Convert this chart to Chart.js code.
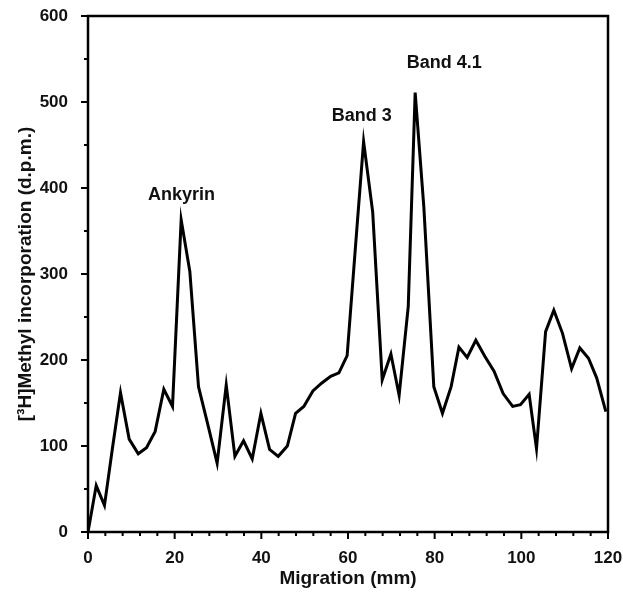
<!DOCTYPE html>
<html>
<head>
<meta charset="utf-8">
<script src="https://cdn.jsdelivr.net/npm/chart.js@4.4.0/dist/chart.umd.min.js"></script>
<style>
  html, body { margin: 0; padding: 0; background: #fff; }
  #wrap { width: 623px; height: 593px; }
</style>
</head>
<body>
<div id="wrap"><canvas id="methyl-chart" width="623" height="593"></canvas></div>
<script>
// migration distance (mm) of each gel slice
const migration = [0, 1.9, 3.8, 5.6, 7.5, 9.5, 11.6, 13.5, 15.5, 17.5,
    19.5, 21.5, 23.5, 25.5, 27.6, 29.8, 31.9, 33.9, 35.9, 37.9,
    39.9, 41.9, 43.9, 46.0, 47.9, 49.8, 51.9, 53.9, 56.0, 57.9,
    59.8, 61.7, 63.6, 65.7, 67.9, 69.9, 71.8, 73.9, 75.5, 77.5,
    79.8, 81.8, 83.8, 85.6, 87.5, 89.5, 91.6, 93.7, 95.8, 98.0,
    99.8, 101.8, 103.5, 105.6, 107.5, 109.5, 111.6, 113.5, 115.5, 117.4, 119.5];

// [3H]methyl incorporation (d.p.m.)
const incorporation = [0, 54, 31, 96, 162, 108, 91, 98, 117, 166,
    146, 363, 303, 169, 126, 80, 171, 88, 106, 85,
    138, 96, 88, 100, 138, 146, 164, 173, 181, 185,
    205, 330, 454, 372, 177, 207, 159, 262, 511, 378,
    169, 138, 169, 215, 203, 223, 204, 187, 161, 146,
    148, 160, 97, 233, 258, 231, 190, 214, 202, 179, 140];

// peak labels
const peakNames = ["Ankyrin", "Band 3", "Band 4.1"];
const peakX = [21.6, 63.2, 82.2];
const peakY = [392, 484, 545];

const xTicks = [0, 20, 40, 60, 80, 100, 120];
const yTicks = [0, 100, 200, 300, 400, 500, 600];

const fontFamily = "'Liberation Sans', Arial, sans-serif";

// frame, tick marks and peak labels
const framePlugin = {
    id: 'frame',
    afterDraw(chart) {
        const ctx = chart.ctx;
        const area = chart.chartArea;
        const xs = chart.scales.x;
        const ys = chart.scales.y;
        ctx.save();
        ctx.strokeStyle = '#000';
        ctx.lineWidth = 2.5;
        ctx.strokeRect(area.left, area.top, area.right - area.left, area.bottom - area.top);

        ctx.lineWidth = 2;
        ctx.beginPath();
        for (let v = 0; v <= 120; v += 4) {
            const px = xs.getPixelForValue(v);
            const len = v % 20 === 0 ? 7 : 4;
            ctx.moveTo(px, area.bottom);
            ctx.lineTo(px, area.bottom + len);
        }
        for (let v = 0; v <= 600; v += 50) {
            const py = ys.getPixelForValue(v);
            const len = v % 100 === 0 ? 7 : 4;
            ctx.moveTo(area.left, py);
            ctx.lineTo(area.left - len, py);
        }
        ctx.stroke();

        ctx.fillStyle = '#111';
        ctx.font = 'bold 18px ' + fontFamily;
        ctx.textAlign = 'center';
        ctx.textBaseline = 'middle';
        for (let i = 0; i < peakNames.length; i++) {
            ctx.fillText(peakNames[i], xs.getPixelForValue(peakX[i]), ys.getPixelForValue(peakY[i]));
        }
        ctx.restore();
    }
};

const points = migration.map((m, i) => ({ x: m, y: incorporation[i] }));

new Chart(document.getElementById('methyl-chart'), {
    type: 'line',
    data: {
        datasets: [{
            data: points,
            borderColor: '#000',
            borderWidth: 3,
            borderJoinStyle: 'miter',
            pointRadius: 0,
            tension: 0,
            fill: false
        }]
    },
    options: {
        responsive: false,
        animation: false,
        layout: { padding: { top: 16, right: 15, left: 0, bottom: 0 } },
        plugins: {
            legend: { display: false },
            tooltip: { enabled: false }
        },
        scales: {
            x: {
                type: 'linear',
                min: 0,
                max: 120,
                afterBuildTicks: s => { s.ticks = xTicks.map(v => ({ value: v })); },
                afterFit: s => { s.height = 61; s.paddingLeft = 0; s.paddingRight = 0; },
                grid: { display: false },
                border: { display: false },
                ticks: {
                    color: '#111',
                    padding: 8,
                    maxRotation: 0,
                    font: { family: fontFamily, size: 17, weight: 'bold' }
                },
                title: {
                    display: true,
                    text: 'Migration (mm)',
                    color: '#111',
                    padding: { top: 0, bottom: 3 },
                    font: { family: fontFamily, size: 19, weight: 'bold' }
                }
            },
            y: {
                min: 0,
                max: 600,
                afterBuildTicks: s => { s.ticks = yTicks.map(v => ({ value: v })); },
                afterFit: s => { s.width = 88; s.paddingTop = 0; s.paddingBottom = 0; },
                grid: { display: false },
                border: { display: false },
                ticks: {
                    color: '#111',
                    padding: 12,
                    font: { family: fontFamily, size: 17, weight: 'bold' }
                },
                title: {
                    display: true,
                    text: '[³H]Methyl incorporation (d.p.m.)',
                    color: '#111',
                    padding: { top: 14, bottom: 0 },
                    font: { family: fontFamily, size: 19, weight: 'bold' }
                }
            }
        }
    },
    plugins: [framePlugin]
});
</script>
</body>
</html>
